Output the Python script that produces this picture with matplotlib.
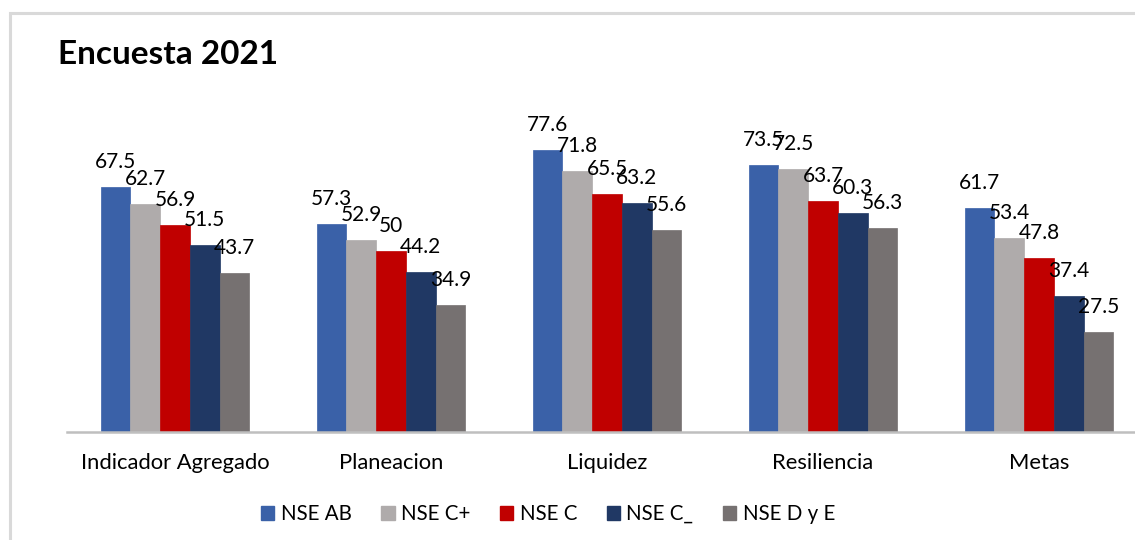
import matplotlib
matplotlib.use("Agg")
import matplotlib.pyplot as plt
from matplotlib.patches import Rectangle, Patch
import numpy as np

categories = ["Indicador Agregado", "Planeacion", "Liquidez", "Resiliencia", "Metas"]
series_names = ["NSE AB", "NSE C+", "NSE C", "NSE C_", "NSE D y E"]
nse_ab = [67.5, 57.3, 77.6, 73.5, 61.7]
nse_cplus = [62.7, 52.9, 71.8, 72.5, 53.4]
nse_c = [56.9, 50, 65.5, 63.7, 47.8]
nse_c_ = [51.5, 44.2, 63.2, 60.3, 37.4]
nse_dye = [43.7, 34.9, 55.6, 56.3, 27.5]
series_values = [nse_ab, nse_cplus, nse_c, nse_c_, nse_dye]
colors = ["#3A61A8", "#AFABAB", "#C00000", "#203864", "#767171"]

plt.rcParams['font.family'] = ['Lato', 'DejaVu Sans']

W, H = 1135, 540
fig = plt.figure(figsize=(W / 100, H / 100), dpi=100)

# outer chart border (cropped on right/bottom)
fig.patches.append(Rectangle((10 / W, -0.1), 1.2, (H - 13) / H + 0.1, transform=fig.transFigure,
                             fill=False, edgecolor="#D9D9D9", linewidth=2.2))

ax = fig.add_axes([67 / W, (H - 432) / H, 1080 / W, 363 / H])
ax.set_xlim(-0.5, 4.5)
ax.set_ylim(0, 100)

x = np.arange(len(categories))
bw = 0.1375
for i, (vals, col) in enumerate(zip(series_values, colors)):
    pos = x + (i - 2) * bw
    ax.bar(pos, vals, width=bw, color=col, edgecolor=col, linewidth=0.5, zorder=2)
    for p, v in zip(pos, vals):
        ax.annotate(f"{v:g}", (p, v), xytext=(0, 18), textcoords="offset points",
                    ha="center", va="center", fontsize=15, color="#000000", zorder=3)

for s in ["top", "right", "left"]:
    ax.spines[s].set_visible(False)
ax.spines["bottom"].set_color("#BFBFBF")
ax.spines["bottom"].set_linewidth(1.8)
ax.set_yticks([])
ax.set_xticks(x)
ax.set_xticklabels(categories, fontsize=15.8)
ax.tick_params(axis="x", length=0, pad=15)

fig.text(58 / W, 1 - 55 / H, "Encuesta 2021", fontsize=24, fontweight="bold",
         ha="left", va="center")

handles = [Patch(facecolor=c, edgecolor=c) for c in colors]
fig.legend(handles, series_names, loc="center", bbox_to_anchor=(548 / W, 26 / H), ncol=5,
           frameon=False, fontsize=14.8, handlelength=0.65, handleheight=0.65,
           handletextpad=0.3, columnspacing=1.45)

fig.savefig("out.png", dpi=100)
